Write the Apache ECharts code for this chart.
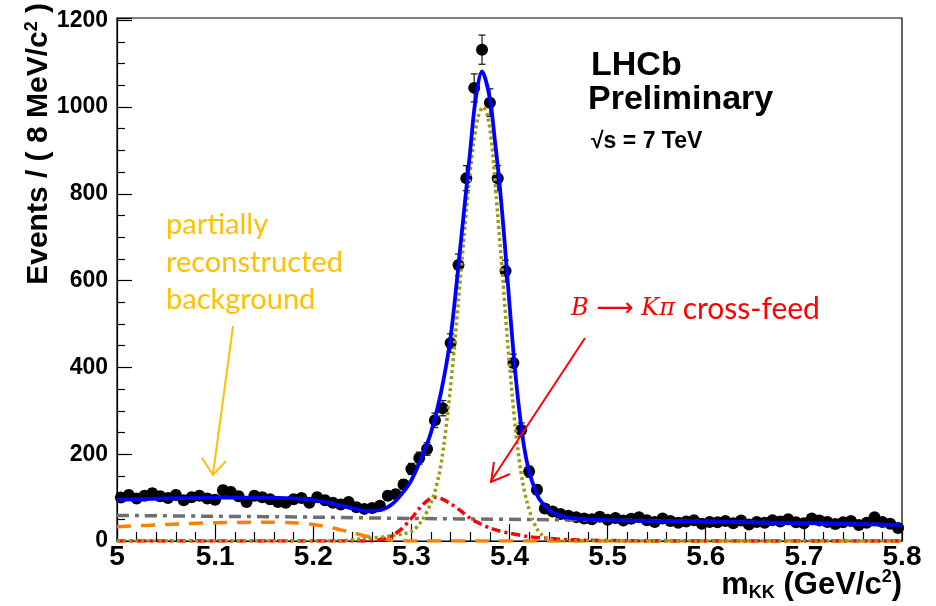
<!DOCTYPE html>
<html><head><meta charset="utf-8">
<script src="https://cdn.jsdelivr.net/npm/echarts@6/dist/echarts.min.js"></script>
<style>html,body{margin:0;padding:0;background:#fff}#c{width:936px;height:606px}</style>
</head><body><div id="c"></div>
<script>
// Histogram binning (8 MeV bins from 5.0 to 5.8 GeV)
const binLow = 5.0;
const binWidth = 0.008;
// Event counts per bin
const counts = [
  100,106,98,104,110,103,99,106,94,101,
  104,98,95,117,113,103,90,104,101,96,
  90,88,96,99,88,101,94,88,84,90,
  78,74,76,81,104,108,130,166,191,212,
  278,306,456,636,836,1044,1132,1010,836,622,
  410,256,160,118,75,68,62,58,55,52,
  50,56,49,53,47,51,55,48,44,52,
  46,42,45,48,40,44,43,46,41,47,
  38,44,42,48,45,50,43,41,52,47,
  44,39,43,46,37,42,55,44,40,30
];
// Fit curves [mass, events]
const totalFit = [[5.00,95],[5.05,98],[5.10,100],[5.15,100],[5.18,98],[5.20,94],[5.22,86],[5.24,75],[5.255,69],[5.27,72],[5.28,84],[5.29,108],[5.30,140],[5.31,190],[5.32,250],[5.33,340],[5.34,470],[5.35,680],[5.355,790],[5.36,900],[5.365,1010],[5.372,1082],[5.38,1020],[5.385,925],[5.39,820],[5.395,690],[5.40,545],[5.405,410],[5.41,300],[5.415,215],[5.42,160],[5.425,125],[5.43,98],[5.44,72],[5.45,60],[5.46,54],[5.48,50],[5.50,48],[5.55,46],[5.60,45],[5.65,43],[5.70,41],[5.75,39],[5.80,37]];
const signalPdf = [[5.00,0],[5.22,0],[5.25,5],[5.28,12],[5.30,22],[5.31,45],[5.32,88],[5.328,150],[5.333,220],[5.338,314],[5.343,427],[5.348,554],[5.353,685],[5.358,808],[5.363,910],[5.368,977],[5.373,1000],[5.378,977],[5.383,890],[5.388,750],[5.393,610],[5.398,460],[5.403,330],[5.408,220],[5.413,140],[5.418,88],[5.423,52],[5.428,28],[5.433,14],[5.438,6],[5.443,2],[5.45,0],[5.80,0]];
const crossFeed = [[5.00,0],[5.26,0],[5.27,4],[5.28,12],[5.29,28],[5.30,52],[5.31,80],[5.32,99],[5.325,101],[5.33,98],[5.34,86],[5.35,70],[5.36,52],[5.37,40],[5.38,30],[5.39,23],[5.40,18],[5.42,10],[5.44,6],[5.46,3],[5.50,1],[5.55,0],[5.80,0]];
const combinatorial = [[5.0,59],[5.1,57],[5.2,55],[5.3,52],[5.4,50],[5.5,48],[5.6,45],[5.7,41],[5.8,37]];
const partReco = [[5.0,33],[5.05,38],[5.10,42],[5.15,43],[5.18,42],[5.20,38],[5.22,30],[5.24,19],[5.26,8],[5.28,2],[5.30,0],[5.80,0]];
// Axis ticks
const xTicks = [5, 5.1, 5.2, 5.3, 5.4, 5.5, 5.6, 5.7, 5.8];
const yTicks = [0, 200, 400, 600, 800, 1000, 1200];

const points = counts.map((c, i) => [binLow + (i + 0.5) * binWidth, c, Math.sqrt(c)]);

const chart = echarts.init(document.getElementById('c'), null, {renderer: 'canvas'});
const FONT = "'Liberation Sans', Arial, sans-serif";
const gold = '#ffc000';
const red = '#ff0000';

chart.setOption({
  animation: false,
  backgroundColor: '#fff',
  grid: {left: 117, right: 34, top: 18, bottom: 65, show: true, borderColor: '#000', borderWidth: 1.2, backgroundColor: 'transparent'},
  xAxis: {
    type: 'value', min: xTicks[0], max: xTicks[xTicks.length - 1], interval: 0.1,
    axisLine: {show: true, onZero: false, lineStyle: {color: '#000', width: 1.2}},
    axisTick: {show: true, inside: true, length: 17, lineStyle: {color: '#000', width: 1.2}},
    minorTick: {show: true, splitNumber: 5, length: 9, lineStyle: {color: '#000', width: 1.2}},
    splitLine: {show: false},
    axisLabel: {fontFamily: FONT, fontWeight: 'bold', fontSize: 28, color: '#000', margin: 2,
      formatter: v => String(Math.round(v * 10) / 10)}
  },
  yAxis: {
    type: 'value', min: yTicks[0], max: 1205, interval: 200,
    axisLine: {show: true, lineStyle: {color: '#000', width: 1.2}},
    axisTick: {show: true, inside: true, length: 15, lineStyle: {color: '#000', width: 1.2}},
    minorTick: {show: true, splitNumber: 4, length: 8, lineStyle: {color: '#000', width: 1.2}},
    splitLine: {show: false},
    axisLabel: {fontFamily: FONT, fontWeight: 'bold', fontSize: 23, color: '#000', margin: 9,
      formatter: v => (yTicks.indexOf(v) >= 0 ? String(v) : '')}
  },
  series: [
    {type: 'scatter', data: points.map(p => [p[0], p[1]]), symbol: 'circle', symbolSize: 12,
     itemStyle: {color: '#000', opacity: 1}, z: 2, silent: true},
    {type: 'custom', data: points, z: 1, silent: true,
     renderItem: function (params, api) {
       const x = api.value(0), y = api.value(1), e = api.value(2);
       const t = api.coord([x, y + e]), b = api.coord([x, y - e]);
       const st = {stroke: '#222', lineWidth: 1.3};
       return {type: 'group', children: [
         {type: 'line', shape: {x1: t[0], y1: t[1], x2: b[0], y2: b[1]}, style: st},
         {type: 'line', shape: {x1: t[0] - 3.5, y1: t[1], x2: t[0] + 3.5, y2: t[1]}, style: st},
         {type: 'line', shape: {x1: b[0] - 3.5, y1: b[1], x2: b[0] + 3.5, y2: b[1]}, style: st}
       ]};
     }},
    {type: 'line', data: combinatorial, showSymbol: false, smooth: 0.3, z: 3,
     lineStyle: {color: '#6e6e6e', width: 3.5, type: [12, 6, 4, 6]}},
    {type: 'line', data: partReco, showSymbol: false, smooth: 0.3, z: 3,
     lineStyle: {color: '#ff7f00', width: 3.5, type: [14, 10]}},
    {type: 'line', data: crossFeed, showSymbol: false, smooth: 0.3, z: 4,
     lineStyle: {color: red, width: 3.5, type: [9, 4, 3, 4]}},
    {type: 'line', data: signalPdf, showSymbol: false, smooth: 0.3, z: 4,
     lineStyle: {color: '#9c9c10', width: 3.5, type: [3, 3]}},
    {type: 'line', data: totalFit, showSymbol: false, smooth: 0.3, z: 5,
     lineStyle: {color: '#0000ff', width: 3.8, type: 'solid'}}
  ],
  graphic: [
    {type: 'text', x: 39, y: 3, rotation: Math.PI / 2, z: 10,
     style: {text: 'Events / ( 8 MeV/c{s|2} )', fontFamily: FONT, fontWeight: 'bold', fontSize: 30, fill: '#000',
       textAlign: 'right', textVerticalAlign: 'middle',
       rich: {s: {fontFamily: FONT, fontWeight: 'bold', fontSize: 18, verticalAlign: 'top', padding: [0, 0, 14, 0]}}}},
    {type: 'text', right: 34, top: 568, z: 10,
     style: {text: 'm{sub|KK} (GeV/c{sup|2})', fontFamily: FONT, fontWeight: 'bold', fontSize: 31, fill: '#000',
       rich: {
         sub: {fontFamily: FONT, fontWeight: 'bold', fontSize: 18, padding: [16, 0, 0, 0]},
         sup: {fontFamily: FONT, fontWeight: 'bold', fontSize: 18, padding: [0, 0, 16, 0]}
       }}},
    {type: 'text', x: 591, y: 66, z: 10,
     style: {text: 'LHCb', fontFamily: FONT, fontWeight: 'bold', fontSize: 34, fill: '#000', textVerticalAlign: 'middle'}},
    {type: 'text', x: 588, y: 100, z: 10,
     style: {text: 'Preliminary', fontFamily: FONT, fontWeight: 'bold', fontSize: 34, fill: '#000', textVerticalAlign: 'middle'}},
    {type: 'text', x: 591, y: 142, z: 10,
     style: {text: '√s = 7 TeV', fontFamily: FONT, fontWeight: 'bold', fontSize: 23, fill: '#000', textVerticalAlign: 'middle'}},
    {type: 'text', x: 166, y: 225, z: 10,
     style: {text: 'partially', fontFamily: 'Lato', fontSize: 29, fill: gold, textVerticalAlign: 'middle'}},
    {type: 'text', x: 166, y: 263, z: 10,
     style: {text: 'reconstructed', fontFamily: 'Lato', fontSize: 29, fill: gold, textVerticalAlign: 'middle'}},
    {type: 'text', x: 166, y: 300, z: 10,
     style: {text: 'background', fontFamily: 'Lato', fontSize: 29, fill: gold, textVerticalAlign: 'middle'}},
    {type: 'line', z: 10, shape: {x1: 233, y1: 326, x2: 213, y2: 474}, style: {stroke: gold, lineWidth: 2}},
    {type: 'polyline', z: 10, shape: {points: [[202, 458], [213, 475], [226, 461]]}, style: {stroke: gold, lineWidth: 2, fill: null}},
    {type: 'text', x: 571, y: 309, z: 10,
     style: {text: '{i|B} {a|⟶} {i|Kπ} cross-feed', fontFamily: 'Lato', fontSize: 30, fill: red, textVerticalAlign: 'middle',
       rich: {
         i: {fontFamily: "'DejaVu Serif', serif", fontStyle: 'italic', fontSize: 24, fill: red},
         a: {fontFamily: "'DejaVu Sans', sans-serif", fontSize: 26, fill: red}
       }}},
    {type: 'line', z: 10, shape: {x1: 585, y1: 338, x2: 491, y2: 481}, style: {stroke: red, lineWidth: 2}},
    {type: 'polyline', z: 10, shape: {points: [[494, 462], [491, 482], [510, 474]]}, style: {stroke: red, lineWidth: 2, fill: null}}
  ]
});
</script>
</body></html>
